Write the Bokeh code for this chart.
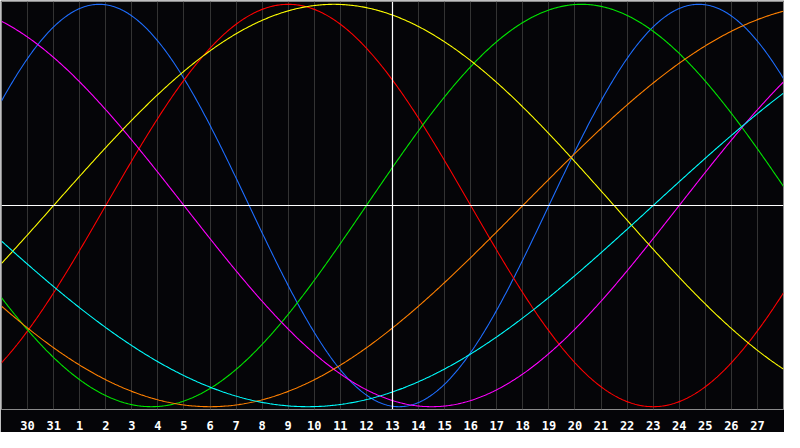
import numpy as np
from bokeh.plotting import figure
from bokeh.models import Span, FixedTicker, Range1d, ColumnDataSource
from bokeh.embed import file_html
from bokeh.resources import INLINE

# Day labels at each grid line (index 1..29)
day_ticks = list(range(1, 30))
day_labels = ["30", "31"] + [str(d) for d in range(1, 28)]
today_index = 15  # day 13

# Biorhythm cycles: length in days and the day index where the cycle crosses zero upward
cycle_names = ["Physical", "Emotional", "Intellectual", "Intuitive", "Aesthetic", "Awareness", "Spiritual"]
cycle_days = [23, 28, 33, 38, 43, 48, 53]
cycle_zero_up = [-2.0, 4.0, 14.0, -12.0, 2.0, 20.0, 25.0]
cycle_colors = ["#1E6EFF", "#FF0000", "#00E600", "#FF00FF", "#FFFF00", "#FF8000", "#00FFFF"]

BG = "#050508"

p = figure(width=784, height=432, output_backend="svg", toolbar_location=None,
           x_range=Range1d(0, 30), y_range=Range1d(-1.014, 1.014),
           min_border_left=1, min_border_right=1, min_border_top=1, min_border_bottom=21)
p.background_fill_color = BG
p.border_fill_color = BG
p.outline_line_color = "#8a8a8a"
p.outline_line_width = 1

p.yaxis.visible = False
p.ygrid.visible = False
p.xgrid.ticker = FixedTicker(ticks=day_ticks)
p.xgrid.grid_line_color = "#333333"
p.xgrid.grid_line_width = 1

p.xaxis.ticker = FixedTicker(ticks=day_ticks)
p.xaxis.major_label_overrides = {t: l for t, l in zip(day_ticks, day_labels)}
p.xaxis.axis_line_color = None
p.xaxis.major_tick_line_color = None
p.xaxis.minor_tick_line_color = None
p.xaxis.major_label_text_color = "white"
p.xaxis.major_label_text_font = "DejaVu Sans Mono"
p.xaxis.major_label_text_font_style = "bold"
p.xaxis.major_label_text_font_size = "12px"
p.xaxis.major_label_standoff = 5

t = np.linspace(0, 30, 601)
for name, period, z, color in zip(cycle_names, cycle_days, cycle_zero_up, cycle_colors):
    y = np.sin(2 * np.pi * (t - z) / period)
    src = ColumnDataSource(dict(x=t, y=y))
    p.line("x", "y", source=src, line_color=color, line_width=1.1)

p.add_layout(Span(location=0, dimension="width", line_color="white", line_width=1.2))
p.add_layout(Span(location=today_index, dimension="height", line_color="white", line_width=1.2))

open("out.html", "w").write(file_html(p, INLINE))
